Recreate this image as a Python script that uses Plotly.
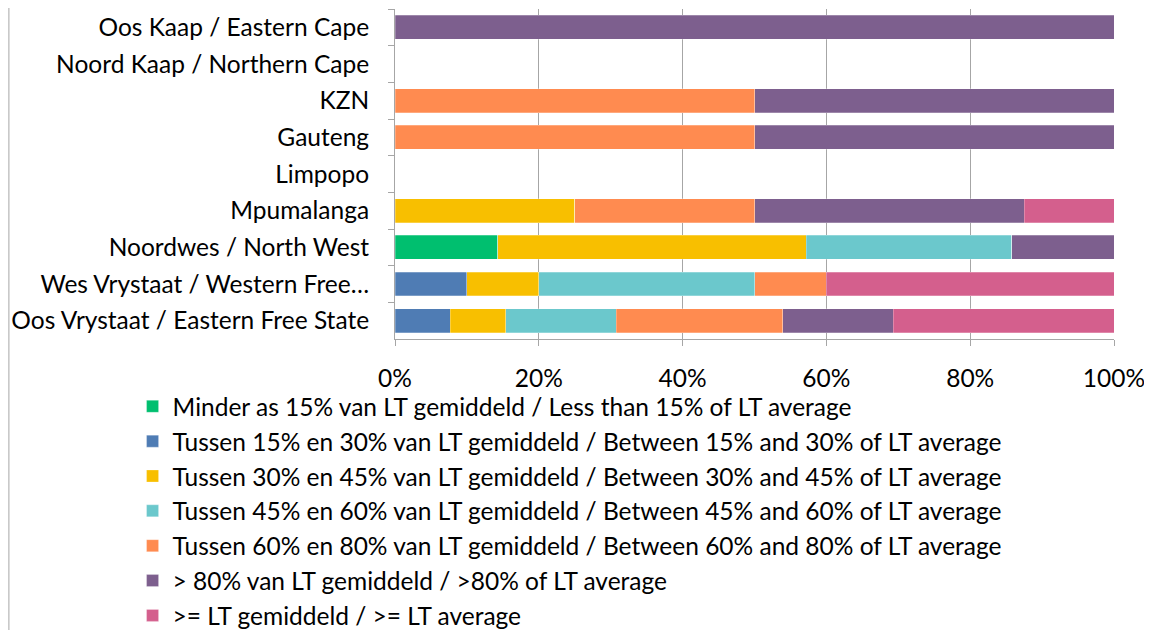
import plotly.graph_objects as go

categories = [
    "Oos Kaap / Eastern Cape",
    "Noord Kaap / Northern Cape",
    "KZN",
    "Gauteng",
    "Limpopo",
    "Mpumalanga",
    "Noordwes / North West",
    "Wes Vrystaat / Western Free…",
    "Oos Vrystaat / Eastern Free State",
]

series_names = [
    "Minder as 15% van LT gemiddeld / Less than 15% of LT average",
    "Tussen 15% en 30% van LT gemiddeld / Between 15% and 30% of LT average",
    "Tussen 30% en 45% van LT gemiddeld / Between 30% and 45% of LT average",
    "Tussen 45% en 60% van LT gemiddeld / Between 45% and 60% of LT average",
    "Tussen 60% en 80% van LT gemiddeld / Between 60% and 80% of LT average",
    "> 80% van LT gemiddeld / >80% of LT average",
    ">= LT gemiddeld / >= LT average",
]

# percentages per category (same order as categories)
less_15 = [0, 0, 0, 0, 0, 0, 14.3, 0, 0]
b15_30 = [0, 0, 0, 0, 0, 0, 0, 10.0, 7.7]
b30_45 = [0, 0, 0, 0, 0, 25.0, 42.9, 10.0, 7.7]
b45_60 = [0, 0, 0, 0, 0, 0, 28.6, 30.0, 15.4]
b60_80 = [0, 0, 50.0, 50.0, 0, 25.0, 0, 10.0, 23.1]
over_80 = [100.0, 0, 50.0, 50.0, 0, 37.5, 14.2, 0, 15.4]
ge_lt = [0, 0, 0, 0, 0, 12.5, 0, 40.0, 30.7]

series_values = [less_15, b15_30, b30_45, b45_60, b60_80, over_80, ge_lt]
colors = ["#00BF6F", "#4F7CB4", "#F8BF00", "#6BC8CC", "#FF8B50", "#7D5F8E", "#D45F8D"]

x_ticks = [0, 20, 40, 60, 80, 100]

FONT = "Lato"

fig = go.Figure()
for i, (name, vals, col) in enumerate(zip(series_names, series_values, colors)):
    fig.add_trace(go.Bar(
        y=categories, x=vals, name=name, orientation="h",
        marker=dict(color=col, line=dict(color="rgba(255,255,255,0.5)", width=0.5)),
        legendgroup=f"g{i}",
    ))

fig.update_layout(
    barmode="stack",
    bargap=0.35,
    width=1152, height=630,
    paper_bgcolor="white", plot_bgcolor="white",
    margin=dict(l=387, r=46, t=1, b=299, autoexpand=False),
    font=dict(family=FONT, size=24.5, color="black"),
    showlegend=True,
    legend=dict(
        orientation="v", traceorder="normal",
        x=-0.365, xanchor="left", y=-0.136, yanchor="top",
        font=dict(family=FONT, size=24.5, color="black"),
        tracegroupgap=3, itemwidth=30,
        bgcolor="rgba(0,0,0,0)",
    ),
)

fig.update_xaxes(
    range=[0, 100], tickvals=x_ticks, ticktext=[f"{v}%" for v in x_ticks],
    showgrid=True, gridcolor="#A6A6A6", gridwidth=1,
    showline=True, linecolor="#A6A6A6", linewidth=1,
    ticks="outside", ticklen=6, tickcolor="#A6A6A6",
    zeroline=False, tickfont=dict(size=24.5), ticklabelstandoff=12,
)
fig.update_yaxes(
    autorange="reversed", categoryorder="array", categoryarray=categories,
    showgrid=False, showline=True, linecolor="#A6A6A6", linewidth=1,
    ticks="outside", ticklen=6, tickcolor="#A6A6A6", tickson="boundaries",
    tickfont=dict(size=24.5), ticklabelstandoff=20,
)

# outer chart border on the left edge
fig.add_shape(type="line", xref="paper", yref="paper", x0=-0.537, x1=-0.537, y0=-1.0, y1=1.1,
              line=dict(color="#A6A6A6", width=1))

fig.write_html("out.html")
